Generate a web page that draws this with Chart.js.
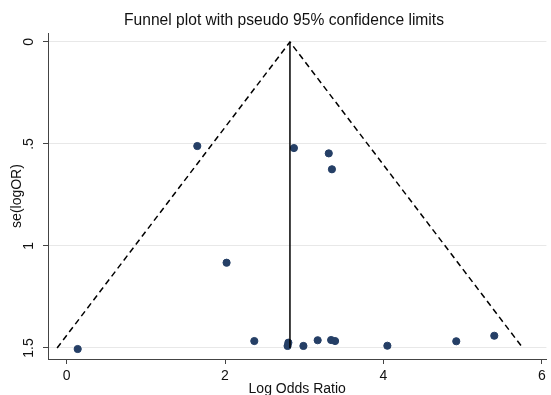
<!DOCTYPE html>
<html>
<head>
<meta charset="utf-8">
<script src="https://cdn.jsdelivr.net/npm/chart.js@4"></script>
<style>
html, body { margin: 0; padding: 0; background: #fff; }
</style>
</head>
<body>
<canvas id="funnel" width="551" height="395"></canvas>
<script>
// study estimates
var logOR   = [1.65, 2.87, 3.31, 3.35, 2.02, 0.14, 2.37, 2.80, 2.79, 2.99, 3.17, 3.34, 3.39, 4.05, 4.92, 5.40];
var seLogOR = [0.51, 0.52, 0.546, 0.624, 1.082, 1.505, 1.466, 1.474, 1.49, 1.49, 1.462, 1.461, 1.466, 1.489, 1.467, 1.44];

// pseudo 95% limits and pooled estimate line
var funnelX = [-0.12, 2.82, 5.76];
var funnelY = [1.5, 0, 1.5];
var pooledX = [2.82, 2.82];
var pooledY = [0, 1.5];

var xTicks = [0, 2, 4, 6];
var yTicks = [0, 0.5, 1, 1.5];
var yTickLabels = ['0', '.5', '1', '1.5'];

function toPoints(xs, ys) {
  var out = [];
  for (var i = 0; i < xs.length; i++) out.push({x: xs[i], y: ys[i]});
  return out;
}

var fontFam = '"Liberation Sans", Arial, sans-serif';

var titlePlugin = {
  id: 'stataTitle',
  afterDraw: function(chart) {
    var ctx = chart.ctx;
    ctx.save();
    ctx.fillStyle = '#111';
    ctx.font = '15.6px ' + fontFam;
    ctx.textAlign = 'center';
    ctx.textBaseline = 'middle';
    ctx.fillText('Funnel plot with pseudo 95% confidence limits', 284, 21);
    ctx.restore();
  }
};

var ctx = document.getElementById('funnel');
var chart = new Chart(ctx, {
  type: 'scatter',
  data: {
    datasets: [
      {
        label: 'limits',
        data: toPoints(funnelX, funnelY),
        showLine: true,
        borderColor: '#000',
        borderWidth: 1.5,
        borderDash: [6, 4],
        pointRadius: 0,
        fill: false
      },
      {
        label: 'pooled',
        data: toPoints(pooledX, pooledY),
        showLine: true,
        borderColor: '#000',
        borderWidth: 1.5,
        pointRadius: 0,
        fill: false
      },
      {
        label: 'studies',
        data: toPoints(logOR, seLogOR),
        backgroundColor: '#253f66',
        borderColor: '#253f66',
        pointRadius: 3.6,
        pointHoverRadius: 3.6
      }
    ]
  },
  options: {
    responsive: false,
    animation: false,
    layout: { padding: { top: 33, left: 0, right: 0, bottom: 0 } },
    plugins: {
      legend: { display: false },
      tooltip: { enabled: false },
      title: { display: false }
    },
    scales: {
      x: {
        type: 'linear',
        min: -0.235,
        max: 6.058,
        afterBuildTicks: function(s) { s.ticks = xTicks.map(function(v) { return {value: v}; }); },
        afterFit: function(s) { s.height = 36; },
        grid: { color: 'transparent', tickColor: '#444', tickLength: 5, drawTicks: true },
        border: { display: true, color: '#444', width: 1 },
        ticks: { color: '#111', font: { family: fontFam, size: 14 }, padding: 4, maxRotation: 0 },
        title: { display: true, text: 'Log Odds Ratio', color: '#111', font: { family: fontFam, size: 14 }, padding: { top: 0, bottom: -3 } }
      },
      y: {
        type: 'linear',
        reverse: true,
        min: -0.044,
        max: 1.554,
        afterBuildTicks: function(s) { s.ticks = yTicks.map(function(v) { return {value: v}; }); },
        afterFit: function(s) { s.width = 48; },
        grid: { color: '#e8e8e8', tickColor: '#444', tickLength: 5 },
        border: { display: true, color: '#444', width: 1 },
        ticks: {
          color: '#111',
          font: { family: fontFam, size: 14 },
          minRotation: 90,
          maxRotation: 90,
          crossAlign: 'center',
          padding: 4.3,
          callback: function(v) {
            var i = yTicks.indexOf(v);
            return i >= 0 ? yTickLabels[i] : '';
          }
        },
        title: { display: true, text: 'se(logOR)', color: '#111', font: { family: fontFam, size: 14 }, padding: { top: 8.3, bottom: 0 } }
      }
    }
  },
  plugins: [titlePlugin]
});
</script>
</body>
</html>
